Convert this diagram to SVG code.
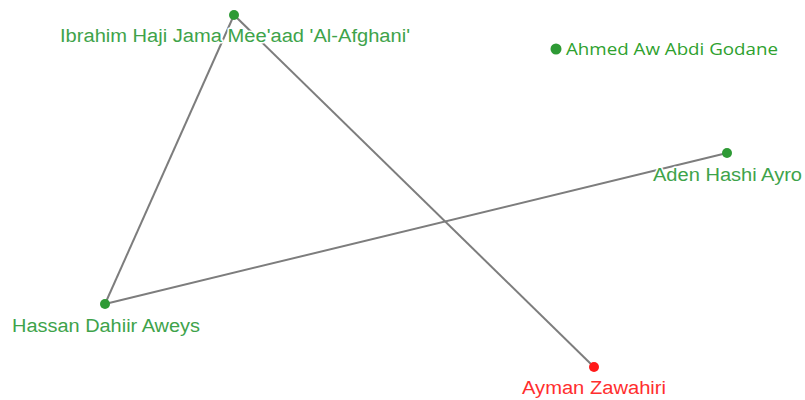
<svg xmlns="http://www.w3.org/2000/svg" width="805" height="400" viewBox="0 0 805 400">
<style>
.edge{stroke:#7d7d7d;stroke-width:2;fill:none}
.dot{fill:#2e9a35}
.red{fill:#ff1a1a}
.lbl{font-family:"Liberation Sans",Arial,sans-serif;font-size:18px;text-anchor:middle;fill:#3ea34a;stroke:#ffffff;stroke-width:3;paint-order:stroke;stroke-linejoin:round}
.lblr{fill:#ff2e2e}
.lbl2{font-family:"Open Sans","Noto Sans",sans-serif;font-size:17px;fill:#2ea12e}
</style>
<rect width="805" height="400" fill="#ffffff"/>
<g id="edges">
<line class="edge" x1="234" y1="15" x2="105" y2="304"/>
<line class="edge" x1="234" y1="15" x2="594" y2="367"/>
<line class="edge" x1="105" y1="304" x2="727" y2="153"/>
</g>
<g id="node-ibrahim">
<circle class="dot" cx="234" cy="15" r="5"/>
<text class="lbl" x="235" y="42" textLength="350" lengthAdjust="spacingAndGlyphs">Ibrahim Haji Jama Mee'aad 'Al-Afghani'</text>
</g>
<g id="node-ahmed">
<circle class="dot" cx="556" cy="49" r="5.5"/>
<text class="lbl2" x="566" y="55" textLength="212" lengthAdjust="spacingAndGlyphs">Ahmed Aw Abdi Godane</text>
</g>
<g id="node-aden">
<circle class="dot" cx="727" cy="153" r="5"/>
<text class="lbl" x="727.5" y="181" textLength="149" lengthAdjust="spacingAndGlyphs">Aden Hashi Ayro</text>
</g>
<g id="node-hassan">
<circle class="dot" cx="105" cy="304" r="5"/>
<text class="lbl" x="106" y="332" textLength="188" lengthAdjust="spacingAndGlyphs">Hassan Dahiir Aweys</text>
</g>
<g id="node-ayman">
<circle class="red" cx="594" cy="367" r="5"/>
<text class="lbl lblr" x="594" y="394" textLength="144" lengthAdjust="spacingAndGlyphs">Ayman Zawahiri</text>
</g>
</svg>
